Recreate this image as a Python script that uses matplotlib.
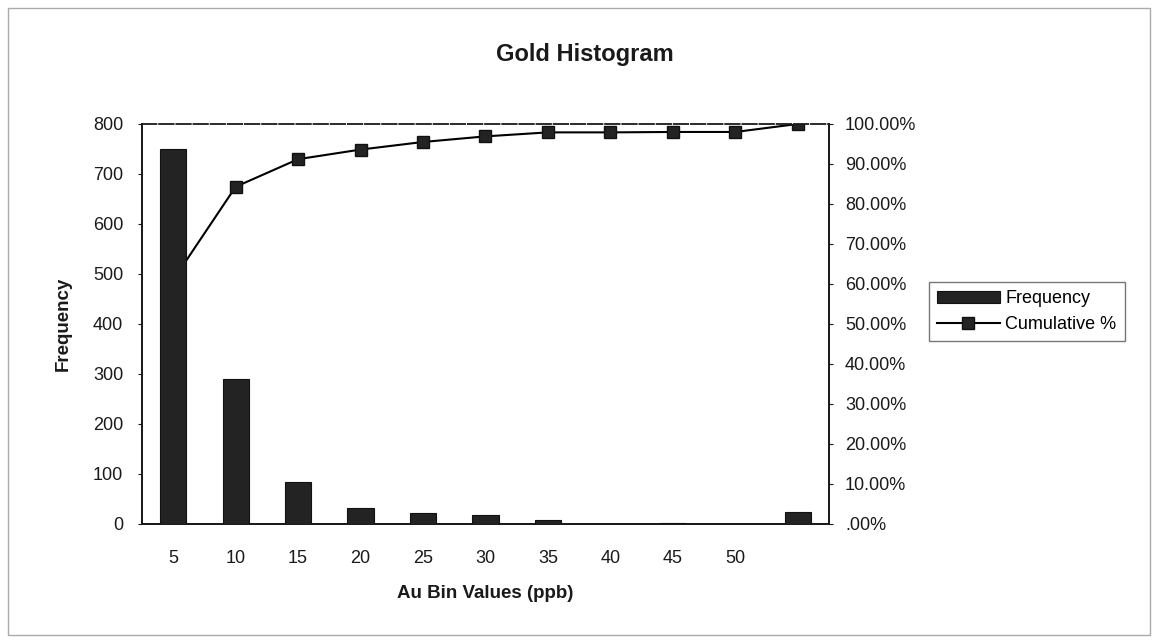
import numpy as np
import matplotlib.pyplot as plt
from matplotlib.patches import Rectangle

plt.rcParams['font.family'] = ['Liberation Sans', 'DejaVu Sans']

# Datos del histograma
bins = ["5", "10", "15", "20", "25", "30", "35", "40", "45", "50", ""]
frequency = [750, 290, 84, 32, 22, 17, 8, 0, 2, 0, 24]
cumulative = [61.0, 84.3, 91.2, 93.6, 95.5, 96.9, 97.9, 97.9, 98.0, 98.0, 100.0]

x = np.arange(len(bins))

fig = plt.figure(figsize=(11.58, 6.43), dpi=100)
ax = fig.add_axes([0.1226, 0.1851, 0.5933, 0.6221])
ax2 = ax.twinx()

# Linea acumulada (por debajo de las barras)
ax.set_zorder(2)
ax.patch.set_visible(False)
ax2.set_zorder(1)

ax.bar(x, frequency, width=0.42, color="#232323", edgecolor="#111111",
       linewidth=0.8, label="Frequency", zorder=3)
ax2.plot(x, cumulative, color="black", lw=1.5, marker="s", markersize=9,
         markerfacecolor="#232323", markeredgecolor="#111111",
         label="Cumulative %")

ax.set_xlim(-0.5, len(bins) - 0.5)
ax.set_ylim(0, 800)
ax.set_yticks(np.arange(0, 801, 100))
ax.set_xticks(x)
ax.set_xticklabels(bins)
ax2.set_ylim(0, 100)
ax2.set_yticks(np.arange(0, 101, 10))
ax2.set_yticklabels([".00%"] + ["%.2f%%" % v for v in np.arange(10, 101, 10)])

for a in (ax, ax2):
    for s in a.spines.values():
        s.set_color("#1a1a1a")
        s.set_linewidth(1.3)
ax.spines["top"].set_linestyle((0, (8, 1.5)))
ax2.spines["top"].set_visible(False)

ax.tick_params(axis="y", labelsize=13, length=3, pad=10.5, colors="#1a1a1a")
ax.tick_params(axis="x", labelsize=13, length=0, pad=19, colors="#1a1a1a")
ax2.tick_params(axis="y", labelsize=13, length=3, pad=8.5, colors="#1a1a1a")

ax.set_xlabel("Au Bin Values (ppb)", fontsize=13.5, fontweight="bold",
              labelpad=13, color="#1a1a1a")
ax.set_ylabel("Frequency", fontsize=13.5, fontweight="bold",
              labelpad=15, color="#1a1a1a")
fig.text(0.505, 0.915, "Gold Histogram", ha="center", va="center",
         fontsize=17, fontweight="bold", color="#1a1a1a")

# Leyenda
h1, l1 = ax.get_legend_handles_labels()
h2, l2 = ax2.get_legend_handles_labels()
fig.legend(h1 + h2, l1 + l2, loc="center left", bbox_to_anchor=(0.802, 0.515),
           fontsize=13, frameon=True, fancybox=False, edgecolor="#555555",
           handlelength=3.5, handletextpad=0.3, borderpad=0.45,
           labelspacing=0.5, borderaxespad=0)

# Marco del area del grafico
fig.patches.append(Rectangle((0.007, 0.012), 0.986, 0.975,
                             transform=fig.transFigure, fill=False,
                             edgecolor="#aaaaaa", linewidth=1.0))

fig.savefig("out.png", dpi=100)
